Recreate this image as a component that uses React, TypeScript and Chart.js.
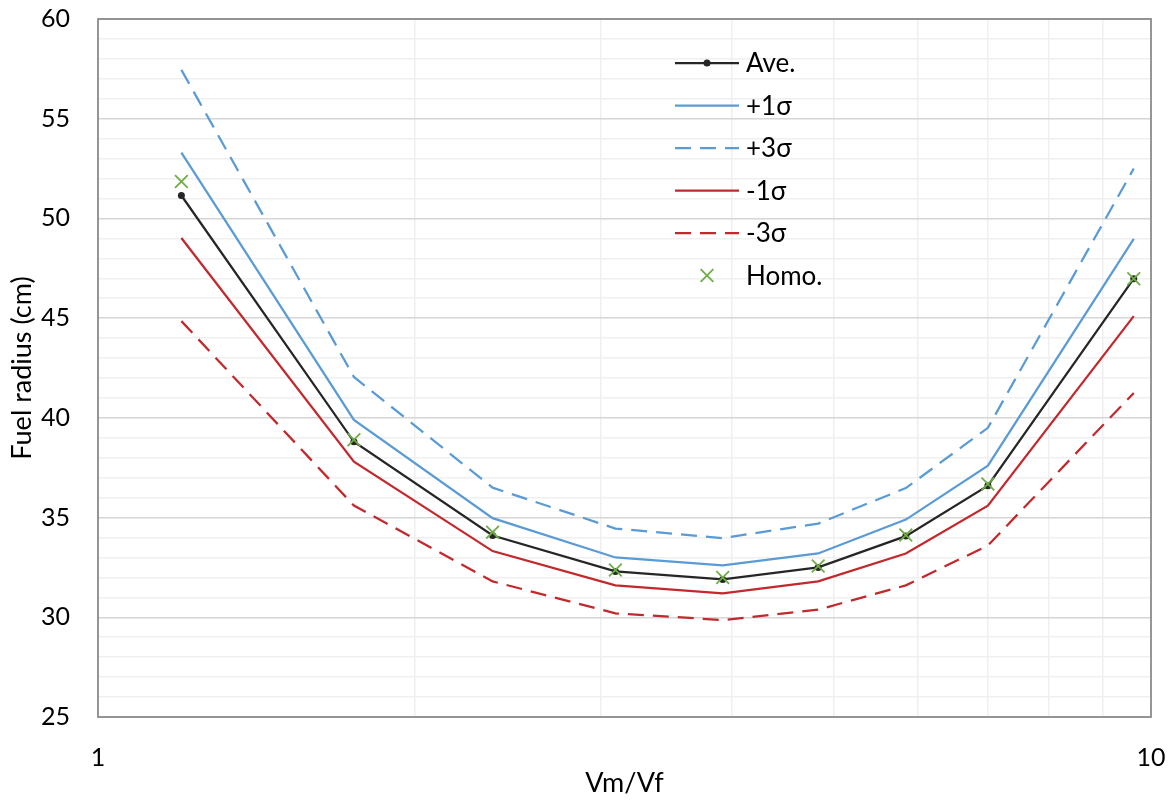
import React, { useEffect, useRef } from "react";
import { Chart, registerables } from "chart.js";

Chart.register(...registerables);

const xValues = [1.2, 1.75, 2.37, 3.1, 3.92, 4.83, 5.85, 7.0, 9.63];
const aveValues = [51.15, 38.8, 34.1, 32.3, 31.9, 32.5, 34.07, 36.6, 46.98];
const plus1Values = [53.3, 39.9, 34.97, 33.0, 32.6, 33.2, 34.9, 37.6, 48.97];
const plus3Values = [57.45, 42.05, 36.5, 34.45, 33.97, 34.7, 36.48, 39.5, 52.5];
const minus1Values = [49.02, 37.8, 33.32, 31.6, 31.2, 31.8, 33.2, 35.6, 45.1];
const minus3Values = [44.85, 35.6, 31.8, 30.2, 29.86, 30.38, 31.6, 33.6, 41.25];
const homoValues = [51.85, 38.9, 34.27, 32.37, 32.0, 32.57, 34.12, 36.68, 46.98];
const seriesLabels = ["Ave.", "+1σ", "+3σ", "-1σ", "-3σ", "Homo."];
const xGridValues = [1, 2, 3, 4, 5, 6, 7, 8, 9, 10];
const xTickLabels = [1, 10];
const yMajorStep = 5;

const FONT = "Lato, 'Open Sans', sans-serif";
const BLACK = "#262626";
const BLUE = "#5b9bd5";
const RED = "#c3282c";
const GREEN = "#70ad47";

const pts = (ys: number[]) => xValues.map((x, i) => ({ x, y: ys[i] }));

const frameAndLegend = {
  id: "frameAndLegend",
  beforeDatasetsDraw(chart: any) {
    const { ctx, chartArea: a } = chart;
    ctx.save();
    ctx.strokeStyle = "#8c8c8c";
    ctx.lineWidth = 1.8;
    ctx.strokeRect(a.left, a.top, a.right - a.left, a.bottom - a.top);
    ctx.restore();
  },
  afterDatasetsDraw(chart: any) {
    const { ctx, chartArea: a } = chart;
    const x0 = a.left + 577;
    const x1 = a.left + 641;
    const tx = a.left + 648;
    const y0 = a.top + 44;
    const dy = 42.5;
    ctx.save();
    chart.data.datasets.forEach((ds: any, i: number) => {
      const y = y0 + i * dy;
      if (ds.showLine) {
        ctx.beginPath();
        ctx.setLineDash(ds.borderDash || []);
        ctx.strokeStyle = ds.borderColor;
        ctx.lineWidth = ds.borderWidth;
        ctx.moveTo(x0, y);
        ctx.lineTo(x1, y);
        ctx.stroke();
        ctx.setLineDash([]);
      }
      if (ds.pointRadius > 0) {
        const cx = (x0 + x1) / 2;
        if (ds.pointStyle === "crossRot") {
          const r = ds.pointRadius * 0.707;
          ctx.beginPath();
          ctx.strokeStyle = ds.pointBorderColor;
          ctx.lineWidth = ds.pointBorderWidth;
          ctx.moveTo(cx - r, y - r);
          ctx.lineTo(cx + r, y + r);
          ctx.moveTo(cx + r, y - r);
          ctx.lineTo(cx - r, y + r);
          ctx.stroke();
        } else {
          ctx.beginPath();
          ctx.fillStyle = ds.pointBackgroundColor;
          ctx.arc(cx, y, ds.pointRadius, 0, Math.PI * 2);
          ctx.fill();
        }
      }
      ctx.fillStyle = "#000";
      ctx.font = `26px ${FONT}`;
      ctx.textBaseline = "middle";
      ctx.textAlign = "left";
      ctx.fillText(ds.label, tx, y + 1);
    });
    ctx.restore();
  },
};

export default function App() {
  const ref = useRef<HTMLCanvasElement>(null);
  useEffect(() => {
    if (!ref.current) return;
    const line = (label: string, data: number[], color: string, dash: number[] | undefined, radius = 0) => ({
      label,
      data: pts(data),
      showLine: true,
      order: 1,
      borderColor: color,
      backgroundColor: color,
      borderWidth: 2.25,
      borderDash: dash,
      pointRadius: radius,
      pointHoverRadius: radius,
      pointBackgroundColor: color,
      pointBorderColor: color,
      pointBorderWidth: 0,
      pointStyle: "circle",
      tension: 0,
    });
    const chart = new Chart(ref.current, {
      type: "scatter",
      data: {
        datasets: [
          line(seriesLabels[0], aveValues, BLACK, undefined, 3.5),
          line(seriesLabels[1], plus1Values, BLUE, undefined),
          line(seriesLabels[2], plus3Values, BLUE, [16, 9]),
          line(seriesLabels[3], minus1Values, RED, undefined),
          line(seriesLabels[4], minus3Values, RED, [16, 9]),
          {
            label: seriesLabels[5],
            data: pts(homoValues),
            showLine: false,
            order: 0,
            pointStyle: "crossRot",
            pointRadius: 9,
            pointHoverRadius: 9,
            pointBorderColor: GREEN,
            pointBackgroundColor: GREEN,
            pointBorderWidth: 1.8,
            borderColor: GREEN,
          } as any,
        ] as any,
      },
      options: {
        animation: false,
        responsive: true,
        maintainAspectRatio: false,
        layout: { padding: { left: 0, right: 25, top: 19, bottom: 0 } },
        plugins: { legend: { display: false }, tooltip: { enabled: false } },
        scales: {
          x: {
            type: "logarithmic",
            min: 1,
            max: 10,
            afterBuildTicks: (s: any) => {
              s.ticks = xGridValues.map((v) => ({ value: v, major: xTickLabels.includes(v) }));
            },
            afterFit: (s: any) => {
              s.height = 86;
              s.paddingLeft = 0;
              s.paddingRight = 0;
            },
            border: { display: false },
            grid: {
              drawTicks: false,
              color: "#efefef",
              lineWidth: 1.5,
            },
            ticks: {
              autoSkip: false,
              maxRotation: 0,
              padding: 26,
              color: "#000",
              font: { family: FONT, size: 25 },
              callback: (v: any) => (xTickLabels.includes(Number(v)) ? String(v) : ""),
            },
            title: {
              display: true,
              text: "Vm/Vf",
              color: "#000",
              font: { family: FONT, size: 27 },
              padding: { top: 4, bottom: 4 },
            },
          },
          y: {
            min: 25,
            max: 60,
            afterFit: (s: any) => {
              s.width = 98;
              s.paddingTop = 0;
              s.paddingBottom = 0;
            },
            border: { display: false },
            grid: {
              drawTicks: false,
              lineWidth: 1.5,
              color: (c: any) => (c.tick && c.tick.value % yMajorStep === 0 ? "#d6d6d6" : "#f0f0f0"),
            },
            ticks: {
              stepSize: 1,
              autoSkip: false,
              padding: 28,
              color: "#000",
              font: { family: FONT, size: 25 },
              callback: (v: any) => (Number(v) % yMajorStep === 0 ? String(v) : ""),
            },
            title: {
              display: true,
              text: "Fuel radius (cm)",
              color: "#000",
              font: { family: FONT, size: 27 },
              padding: { top: 6, bottom: 6 },
            },
          },
        },
      },
      plugins: [frameAndLegend],
    } as any);
    return () => chart.destroy();
  }, []);
  return (
    <div style={{ position: "absolute", left: 0, top: 0, width: 1176, height: 803 }}>
      <canvas ref={ref} />
    </div>
  );
}
